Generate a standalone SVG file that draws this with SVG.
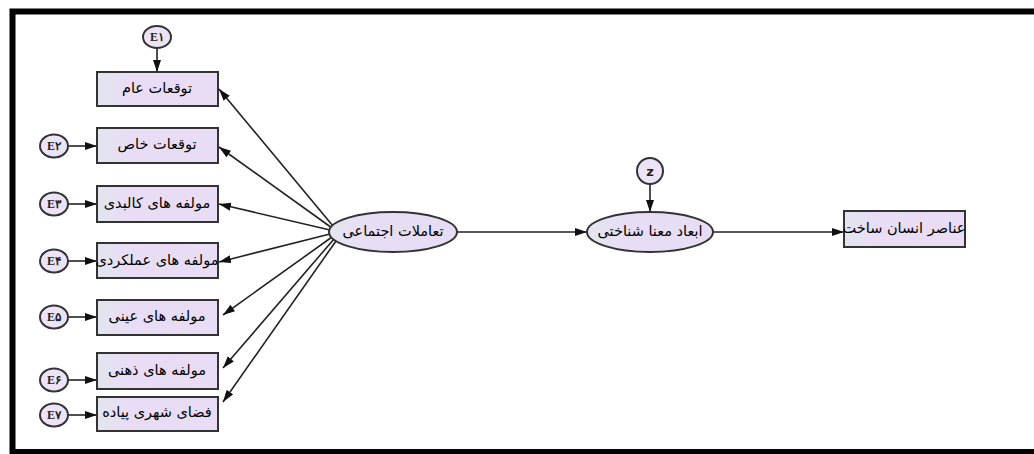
<svg xmlns="http://www.w3.org/2000/svg" width="1034" height="454" viewBox="0 0 1034 454">
<defs>
<linearGradient id="gb" x1="0" y1="0" x2="1" y2="0">
<stop offset="0" stop-color="#e2e6ee"/>
<stop offset="0.25" stop-color="#e8ddf5"/>
<stop offset="1" stop-color="#e8dcf6"/>
</linearGradient>
<linearGradient id="ge" x1="0" y1="0" x2="1" y2="0">
<stop offset="0" stop-color="#e4e6f0"/>
<stop offset="0.3" stop-color="#e8def4"/>
<stop offset="1" stop-color="#e6dcf4"/>
</linearGradient>
<marker id="ah" markerUnits="userSpaceOnUse" markerWidth="13" markerHeight="9" refX="12" refY="4" orient="auto">
<path d="M0,0 L12,4 L0,8 z" fill="#111"/>
</marker>
</defs>
<style>
.box{fill:url(#gb);stroke:#333;stroke-width:2}
.ell{fill:url(#ge);stroke:#333;stroke-width:2}
.err{fill:#ece4f6;stroke:#333;stroke-width:2}
.t{font-family:"DejaVu Sans","Noto Sans",sans-serif;font-size:14.5px;fill:#000;text-anchor:middle;dominant-baseline:central}
.te{font-family:"Liberation Serif","DejaVu Serif",serif;font-size:12px;font-weight:bold;fill:#222;text-anchor:middle;dominant-baseline:central}
.c{stroke:#222;stroke-width:1.6;fill:none;marker-end:url(#ah)}
</style>
<rect x="12.5" y="11.5" width="1040" height="440.5" fill="#fff" stroke="#000" stroke-width="6"/>

<g id="connectors">
<line class="c" x1="157" y1="48" x2="157" y2="72"/>
<line class="c" x1="68" y1="146" x2="97" y2="146"/>
<line class="c" x1="68" y1="204" x2="97" y2="204"/>
<line class="c" x1="68" y1="261" x2="97" y2="261"/>
<line class="c" x1="68" y1="317" x2="97" y2="317"/>
<line class="c" x1="68" y1="380" x2="97" y2="380"/>
<line class="c" x1="68" y1="415" x2="97" y2="415"/>
<line class="c" x1="333" y1="226" x2="219" y2="89"/>
<line class="c" x1="332" y1="228" x2="219" y2="147"/>
<line class="c" x1="330" y1="230" x2="219" y2="204"/>
<line class="c" x1="330" y1="234" x2="219" y2="262"/>
<line class="c" x1="332" y1="237" x2="223" y2="315"/>
<line class="c" x1="334" y1="239" x2="223" y2="368"/>
<line class="c" x1="336" y1="241" x2="223" y2="402"/>
<line class="c" x1="457" y1="232" x2="587" y2="232"/>
<line class="c" x1="650" y1="184" x2="650" y2="212"/>
<line class="c" x1="713" y1="232" x2="844" y2="232"/>
</g>

<g id="e1"><ellipse class="err" cx="157" cy="37" rx="14" ry="11"/><text class="te" x="157" y="37">E۱</text></g>
<g id="e2"><ellipse class="err" cx="54" cy="146" rx="14" ry="11.5"/><text class="te" x="54" y="146">E۲</text></g>
<g id="e3"><ellipse class="err" cx="54" cy="204" rx="14" ry="11.5"/><text class="te" x="54" y="204">E۳</text></g>
<g id="e4"><ellipse class="err" cx="54" cy="261" rx="14" ry="11.5"/><text class="te" x="54" y="261">E۴</text></g>
<g id="e5"><ellipse class="err" cx="54" cy="317" rx="14" ry="11.5"/><text class="te" x="54" y="317">E۵</text></g>
<g id="e6"><ellipse class="err" cx="54" cy="380" rx="14" ry="11.5"/><text class="te" x="54" y="380">E۶</text></g>
<g id="e7"><ellipse class="err" cx="54" cy="415" rx="14" ry="11.5"/><text class="te" x="54" y="415">E۷</text></g>

<g id="box1"><rect class="box" x="97" y="72" width="121" height="34"/><text class="t" x="157" y="88">توقعات عام</text></g>
<g id="box2"><rect class="box" x="97" y="128" width="121" height="35"/><text class="t" x="157" y="144">توقعات خاص</text></g>
<g id="box3"><rect class="box" x="97" y="186" width="121" height="36"/><text class="t" x="157" y="203">مولفه های کالبدی</text></g>
<g id="box4"><rect class="box" x="97" y="243" width="121" height="35"/><text class="t" x="157" y="260">مولفه های عملکردی</text></g>
<g id="box5"><rect class="box" x="97" y="300" width="121" height="35"/><text class="t" x="157" y="316">مولفه های عینی</text></g>
<g id="box6"><rect class="box" x="97" y="353" width="121" height="36"/><text class="t" x="157" y="370">مولفه های ذهنی</text></g>
<g id="box7"><rect class="box" x="97" y="397" width="121" height="34"/><text class="t" x="157" y="412">فضای شهری پیاده</text></g>

<g id="latent1"><ellipse class="ell" cx="393" cy="232" rx="64" ry="20"/><text class="t" x="393" y="231">تعاملات اجتماعی</text></g>
<g id="latent2"><ellipse class="ell" cx="650" cy="232" rx="63" ry="20"/><text class="t" x="650" y="231">ابعاد معنا شناختی</text></g>
<g id="z"><circle class="err" cx="650" cy="171" r="13"/><text x="650" y="171" style="font-family:'DejaVu Sans',sans-serif;font-size:13px;font-weight:bold;fill:#222;text-anchor:middle;dominant-baseline:central">z</text></g>
<g id="box8"><rect class="box" x="844" y="211" width="121" height="36"/><text class="t" x="904" y="228">عناصر انسان ساخت</text></g>
</svg>
